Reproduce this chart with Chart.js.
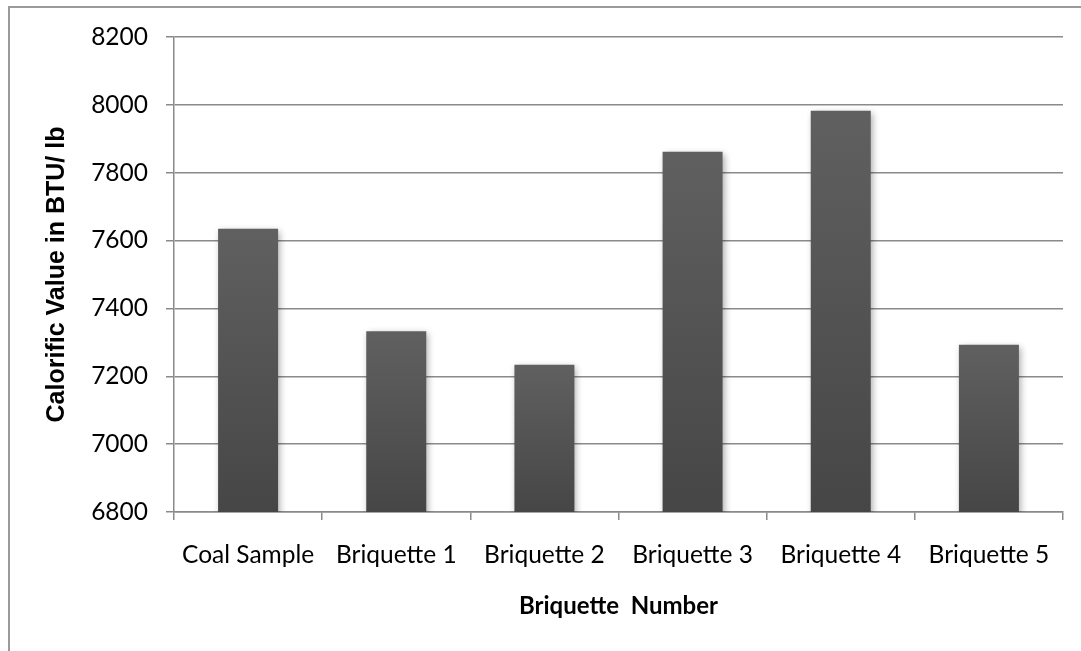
<!DOCTYPE html>
<html>
<head>
<meta charset="utf-8">
<script src="https://cdn.jsdelivr.net/npm/chart.js@4.4.0/dist/chart.umd.min.js"></script>
<style>
  html, body { margin: 0; padding: 0; background: #fff; overflow: hidden; }
  #wrap { position: relative; width: 1081px; height: 651px; }
  #frame { position: absolute; left: 8px; top: 6px; width: 1200px; height: 800px; border: 2px solid #9a9a9a; pointer-events: none; }
</style>
</head>
<body>
<div id="wrap">
  <canvas id="chart" width="1081" height="651"></canvas>
  <div id="frame"></div>
</div>
<script>
// Datos
const categorias = ["Coal Sample", "Briquette 1", "Briquette 2", "Briquette 3", "Briquette 4", "Briquette 5"];
const valores = [7635, 7333, 7234, 7862, 7983, 7293];
const yMin = 6800;
const yMax = 8200;
const yPaso = 200;

const tituloX = "Briquette  Number";
const tituloY = "Calorific Value in BTU/ lb";

const colorLinea = "#8a8a8a";
const fuente = "Lato";

// degradado vertical en cada barra
function degradado(context) {
  const chart = context.chart;
  const { ctx, chartArea, scales } = chart;
  if (!chartArea || context.type !== "data") return "#555555";
  const arriba = scales.y.getPixelForValue(context.raw);
  const abajo = scales.y.getPixelForValue(yMin);
  const g = ctx.createLinearGradient(0, arriba, 0, abajo);
  g.addColorStop(0, "#606060");
  g.addColorStop(1, "#464646");
  return g;
}

// sombra suave de las barras
const sombra = {
  id: "sombra",
  beforeDatasetsDraw(chart) {
    const ctx = chart.ctx;
    ctx.save();
    ctx.shadowColor = "rgba(0,0,0,0.35)";
    ctx.shadowBlur = 7;
    ctx.shadowOffsetX = 2;
    ctx.shadowOffsetY = 2;
  },
  afterDatasetsDraw(chart) {
    chart.ctx.restore();
  }
};

new Chart(document.getElementById("chart"), {
  type: "bar",
  data: {
    labels: categorias,
    datasets: [{
      data: valores,
      backgroundColor: degradado,
      borderWidth: 0,
      barPercentage: 0.405,
      categoryPercentage: 1
    }]
  },
  options: {
    responsive: false,
    animation: false,
    devicePixelRatio: 1,
    layout: { padding: { top: 37, right: 18, left: 0, bottom: 0 } },
    plugins: {
      legend: { display: false },
      tooltip: { enabled: false }
    },
    scales: {
      x: {
        afterFit(scale) { scale.height = 139; },
        grid: {
          display: true,
          drawOnChartArea: false,
          drawTicks: true,
          tickLength: 8,
          offset: true,
          color: colorLinea,
          lineWidth: 1.5
        },
        border: { display: true, color: colorLinea, width: 1.5 },
        ticks: {
          color: "#000",
          padding: 20,
          maxRotation: 0,
          font: { family: fuente, size: 24.5 }
        },
        title: {
          display: true,
          text: tituloX,
          color: "#000",
          padding: { top: 0, bottom: 30 },
          font: { family: fuente, size: 24, weight: "bold", lineHeight: 1.2 }
        }
      },
      y: {
        min: yMin,
        max: yMax,
        afterFit(scale) { scale.width = 174; },
        grid: {
          color: colorLinea,
          lineWidth: 1.5,
          tickLength: 8
        },
        border: { display: true, color: colorLinea, width: 1.5 },
        ticks: {
          stepSize: yPaso,
          color: "#000",
          padding: 18,
          font: { family: fuente, size: 24.5 },
          callback: (v) => String(v)
        },
        title: {
          display: true,
          text: tituloY,
          color: "#000",
          padding: { top: 42, bottom: 0 },
          font: { family: "Liberation Sans", size: 25, weight: "bold", lineHeight: 1.2 }
        }
      }
    }
  },
  plugins: [sombra]
});
</script>
</body>
</html>
